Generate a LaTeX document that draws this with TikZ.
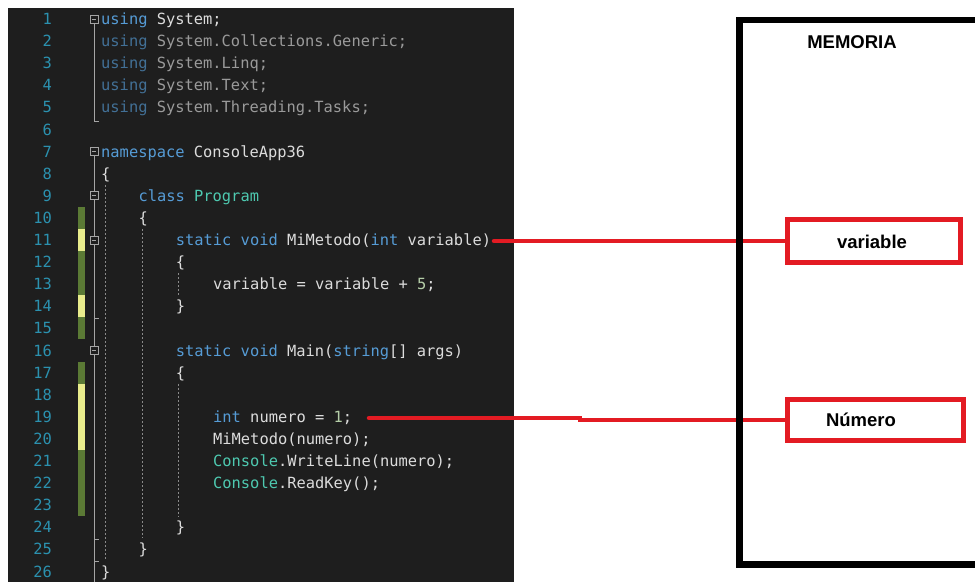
\documentclass[tikz,border=0pt]{standalone}
\usepackage{fontspec}
\setmainfont{Liberation Sans}
\newfontfamily\codefont{DejaVu Sans Mono}
\definecolor{bg}{HTML}{1E1E1E}
\definecolor{kw}{HTML}{569CD6}
\definecolor{ty}{HTML}{4EC9B0}
\definecolor{tx}{HTML}{DCDCDC}
\definecolor{nm}{HTML}{B5CEA8}
\definecolor{lnc}{HTML}{2B91AF}
\definecolor{foldc}{HTML}{A5A5A5}
\definecolor{guidec}{HTML}{8A8A8A}
\definecolor{greenbarc}{HTML}{5B7A35}
\definecolor{yellowbarc}{HTML}{E9EC8C}
\definecolor{redc}{HTML}{E31B23}
\colorlet{kwd}{kw!65!bg}
\colorlet{txd}{tx!65!bg}
\newcommand\K[1]{\textcolor{kw}{#1}}
\newcommand\T[1]{\textcolor{ty}{#1}}
\newcommand\Nm[1]{\textcolor{nm}{#1}}
\newcommand\KD[1]{\textcolor{kwd}{#1}}
\newcommand\TD[1]{\textcolor{txd}{#1}}
\begin{document}
\begin{tikzpicture}[x=1pt,y=-1pt,
  codeline/.style={anchor=base west,inner sep=0pt,text=tx,font=\codefont\fontsize{15.4}{18}\selectfont},
  lnum/.style={anchor=base east,inner sep=0pt,text=lnc,font=\codefont\fontsize{15.4}{18}\selectfont},
  foldbox/.style={draw=foldc,fill=bg,line width=0.9pt,minimum size=8pt,inner sep=0pt,
    path picture={\draw[foldc,line width=0.9pt] ([xshift=-2.2pt]path picture bounding box.center) -- ([xshift=2.2pt]path picture bounding box.center);}},
  foldline/.style={foldc,line width=0.8pt},
  guide/.style={guidec,line width=0.7pt,dash pattern=on 2pt off 2pt},
  greenbar/.style={fill=greenbarc},
  yellowbar/.style={fill=yellowbarc},
  redline/.style={redc,line width=4.5pt},
  redbox/.style={draw=redc,line width=5pt,fill=white,inner sep=0pt},
  memtext/.style={font=\bfseries\fontsize{18.5}{22}\selectfont,text=black,inner sep=0pt}
]
\useasboundingbox (0,0) rectangle (975,582);
\clip (0,0) rectangle (975,582);
\fill[white] (0,0) rectangle (975,582);
% editor panel
\fill[bg] (8,8) rectangle (514,582);
% line numbers
\foreach \n in {1,...,26}{
  \node[lnum] (N\n) at (52,{19+(\n-1)*22.1+5.5}) {\n};
}
% change bars
\path[greenbar] (78,{19+9*22.1-11}) rectangle (85,{19+14*22.1+11});
\path[yellowbar] (78,{19+10*22.1-11}) rectangle (85,{19+10*22.1+11});
\path[yellowbar] (78,{19+13*22.1-11}) rectangle (85,{19+13*22.1+11});
\path[greenbar] (78,{19+16*22.1-11}) rectangle (85,{19+22*22.1+11});
\path[yellowbar] (78,{19+17*22.1-11}) rectangle (85,{19+19*22.1+11});
% fold lines
\draw[foldline] (94,{19}) -- (94,{19+4*22.1+14}) -- (99,{19+4*22.1+14});
\draw[foldline] (94,{19+6*22.1}) -- (94,582);
\draw[foldline] (94,{19+13*22.1+12}) -- (99,{19+13*22.1+12});
\draw[foldline] (94,{19+23*22.1+12}) -- (99,{19+23*22.1+12});
\draw[foldline] (94,{19+24*22.1+12}) -- (99,{19+24*22.1+12});
% indent guides
\draw[guide] (105,{19+8*22.1-11}) -- (105,{19+25*22.1-11});
\draw[guide] (142,{19+10*22.1-11}) -- (142,{19+24*22.1-11});
\draw[guide] (178,{19+12*22.1-11}) -- (178,{19+13*22.1-11});
\draw[guide] (178,{19+17*22.1-11}) -- (178,{19+23*22.1-11});
% fold boxes
\foreach \n in {1,7,9,11,16}{
  \node[foldbox] (F\n) at (94,{19+(\n-1)*22.1}) {};
}
% code
\def\cw{9.33}
\newcommand\cl[3]{\node[codeline] (C#1) at ({101+#2*\cw},{19+(#1-1)*22.1+5.5}) {#3};}
\cl{1}{0}{\K{using} System;}
\cl{2}{0}{\KD{using} \TD{System.Collections.Generic;}}
\cl{3}{0}{\KD{using} \TD{System.Linq;}}
\cl{4}{0}{\KD{using} \TD{System.Text;}}
\cl{5}{0}{\KD{using} \TD{System.Threading.Tasks;}}
\cl{7}{0}{\K{namespace} ConsoleApp36}
\cl{8}{0}{\{}
\cl{9}{4}{\K{class} \T{Program}}
\cl{10}{4}{\{}
\cl{11}{8}{\K{static} \K{void} MiMetodo(\K{int} variable)}
\cl{12}{8}{\{}
\cl{13}{12}{variable = variable + \Nm{5};}
\cl{14}{8}{\}}
\cl{16}{8}{\K{static} \K{void} Main(\K{string}[] args)}
\cl{17}{8}{\{}
\cl{19}{12}{\K{int} numero = \Nm{1};}
\cl{20}{12}{MiMetodo(numero);}
\cl{21}{12}{\T{Console}.WriteLine(numero);}
\cl{22}{12}{\T{Console}.ReadKey();}
\cl{24}{8}{\}}
\cl{25}{4}{\}}
\cl{26}{0}{\}}
% memory boxes
\node[redbox,minimum width=173pt,minimum height=43pt] (varbox) at (874,241) {};
\node[redbox,minimum width=176pt,minimum height=41pt] (numbox) at (875.5,420) {};
% connectors
\coordinate (s1) at (494,241);
\coordinate (s2) at (369,418);
\draw[redline,line cap=round] (s1) -- (varbox.west);
\draw[redline,line cap=round] (s2) -- (580,418) |- (numbox.west);
% memory frame
\draw[line width=6.5pt,black] (739.5,20) rectangle (1000,564.5);
\node[memtext] (memlbl) at (852,42) {MEMORIA};
\node[memtext] (varlbl) at (872,242) {variable};
\node[memtext] (numlbl) at (861,420) {Número};
\end{tikzpicture}
\end{document}
